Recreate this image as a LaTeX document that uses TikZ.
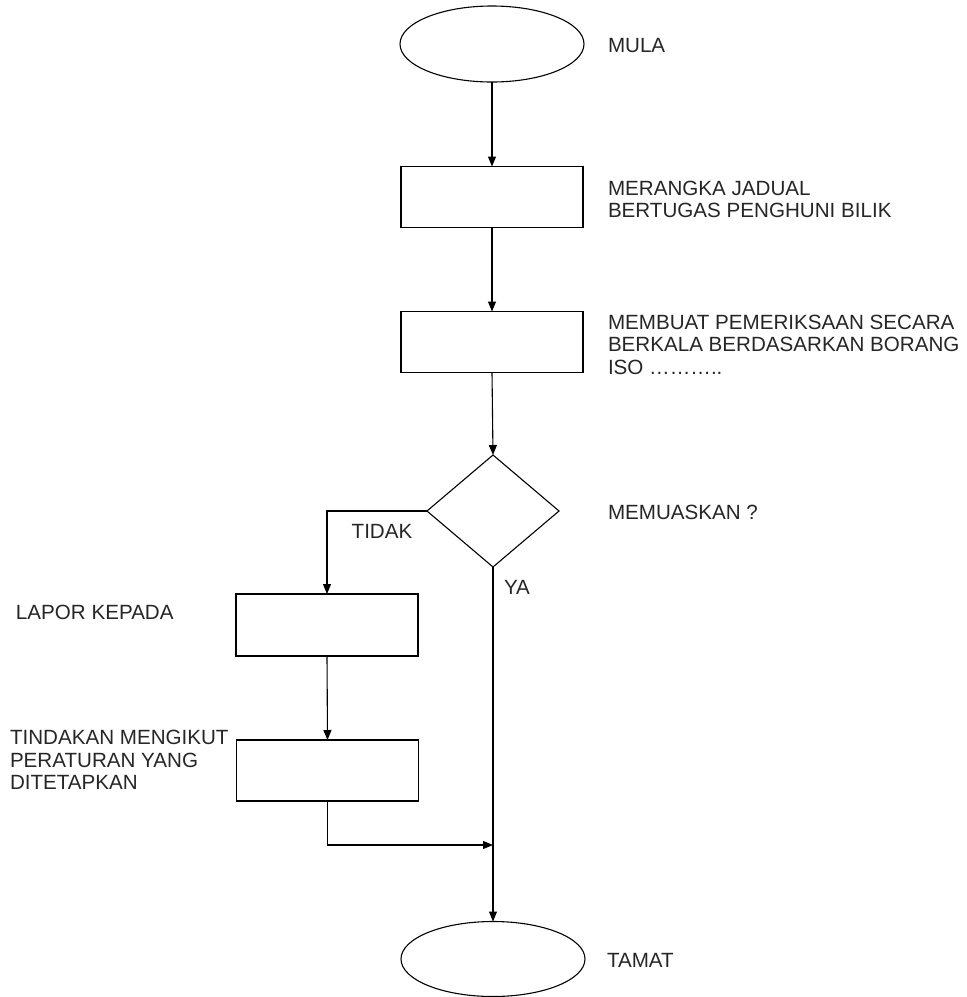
\documentclass[tikz,border=0pt]{standalone}
\usepackage{fontspec}
\setmainfont{Liberation Sans}
\usetikzlibrary{shapes.geometric,arrows.meta}
\begin{document}
\begin{tikzpicture}[x=1pt,y=1pt,
  line width=1.1pt,
  every node/.style={inner sep=0pt,outer sep=0pt},
  term/.style={draw,ellipse,minimum width=184pt,minimum height=76pt},
  procbox/.style={draw,rectangle,minimum width=182pt,minimum height=61pt},
  decbox/.style={draw,diamond,aspect=1.18,minimum width=132pt,minimum height=112pt},
  lbl/.style={anchor=west,align=left,font=\fontsize{20.6}{22.5}\selectfont,text=black!85},
  flow/.style={-{Triangle[length=10pt,width=8pt]}}]
\useasboundingbox (0,0) rectangle (967,-997);

\node[term] (start) at (492,-44) {};
\node[procbox] (r1) at (492,-197) {};
\node[procbox] (r2) at (492,-342) {};
\node[decbox] (dec) at (493,-511) {};
\node[procbox,minimum height=62pt] (r3) at (327,-625) {};
\node[procbox] (r4) at (327.5,-770.5) {};
\node[term,minimum height=75pt] (end) at (493,-959) {};
\coordinate (join) at (493,-845);

\node[lbl] (tmula) at (608,-46) {MULA};
\node[lbl] (tr1) at (608,-199.5) {MERANGKA JADUAL\\BERTUGAS PENGHUNI BILIK};
\node[lbl] (tr2) at (608,-344.5) {MEMBUAT PEMERIKSAAN SECARA\\BERKALA BERDASARKAN BORANG\\ISO ……….. };
\node[lbl] (tdec) at (608,-512) {MEMUASKAN ?};
\node[lbl,anchor=center] (ttidak) at (382,-531) {TIDAK};
\node[lbl,anchor=center] (tya) at (517,-587) {YA};
\node[lbl] (tr3) at (16,-612) {LAPOR KEPADA};
\node[lbl] (tr4) at (10,-760) {TINDAKAN MENGIKUT\\PERATURAN YANG\\DITETAPKAN};
\node[lbl] (tend) at (607,-960) {TAMAT};

\draw[flow] (start.south) -- (r1.north);
\draw[flow] (r1.south) -- (r2.north);
\draw[flow] (r2.south) -- (dec.north);
\draw[flow] (dec.west) -| (r3.north);
\draw[flow] (dec.south) -- (end.north);
\draw[flow] (r3.south) -- (r4.north);
\draw[flow] (r4.south) |- (join);
\end{tikzpicture}
\end{document}
